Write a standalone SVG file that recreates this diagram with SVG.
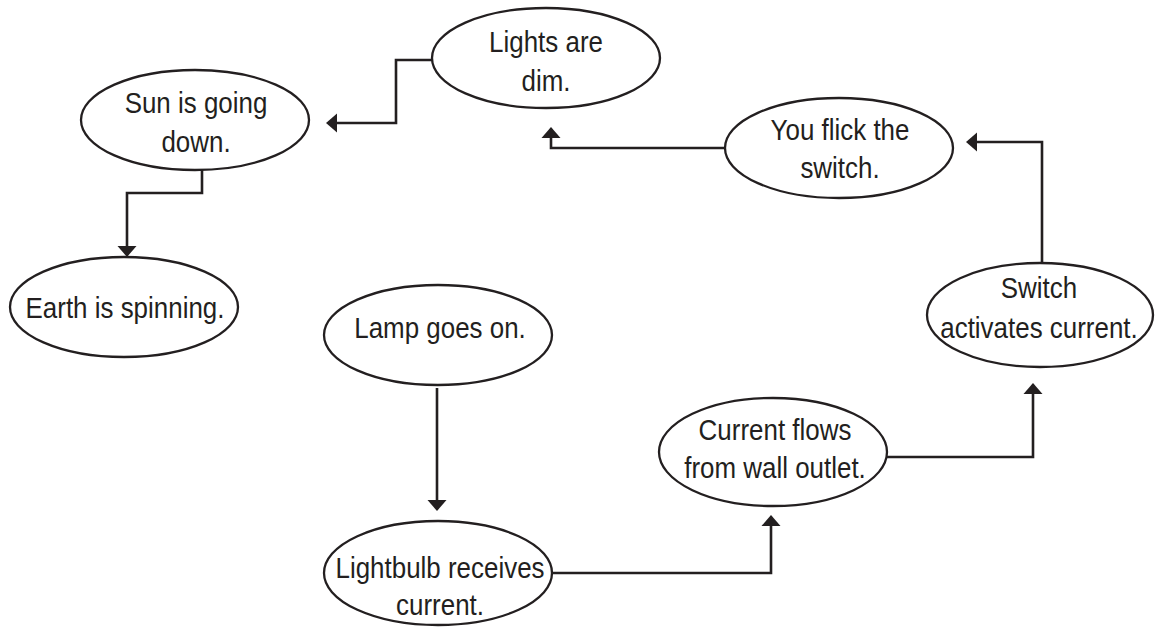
<svg xmlns="http://www.w3.org/2000/svg" width="1155" height="627" viewBox="0 0 1155 627">
  <style>
    .node ellipse { fill: #ffffff; stroke: #231f20; stroke-width: 2.3; }
    .node text { font-family: "Liberation Sans", Arial, sans-serif; font-size: 30px; fill: #231f20; text-anchor: middle; }
    .conn path { fill: none; stroke: #231f20; stroke-width: 2.6; stroke-linejoin: miter; marker-end: url(#head); }
  </style>
  <defs>
    <marker id="head" markerUnits="userSpaceOnUse" markerWidth="12" markerHeight="20" refX="0" refY="9.5" orient="auto" overflow="visible">
      <path d="M0,0 L11,9.5 L0,19 Z" fill="#231f20"/>
    </marker>
  </defs>

  <rect width="1155" height="627" fill="#ffffff"/>

  <g id="connectors" class="conn">
    <path d="M432,60 H396 V123 H337"/>
    <path d="M202,170 V193 H127 V246"/>
    <path d="M725,148 H551 V138"/>
    <path d="M1042,263 V142 H977"/>
    <path d="M887,457 H1033 V394"/>
    <path d="M552,573 H771 V526"/>
    <path d="M437,388 V500"/>
  </g>

  <g id="lights-dim" class="node">
    <ellipse cx="546" cy="58" rx="114" ry="50"/>
    <text transform="translate(546,52) scale(0.865,1)"><tspan x="0" y="0">Lights are</tspan><tspan x="0" y="39">dim.</tspan></text>
  </g>

  <g id="sun-down" class="node">
    <ellipse cx="195" cy="120" rx="114" ry="50"/>
    <text transform="translate(196,113) scale(0.865,1)"><tspan x="0" y="0">Sun is going</tspan><tspan x="0" y="39">down.</tspan></text>
  </g>

  <g id="earth-spinning" class="node">
    <ellipse cx="124" cy="307" rx="114" ry="50"/>
    <text transform="translate(125,318) scale(0.865,1)">Earth is spinning.</text>
  </g>

  <g id="flick-switch" class="node">
    <ellipse cx="839" cy="148" rx="114" ry="50"/>
    <text transform="translate(840,140) scale(0.865,1)"><tspan x="0" y="0">You flick the</tspan><tspan x="0" y="38">switch.</tspan></text>
  </g>

  <g id="switch-activates" class="node">
    <ellipse cx="1040" cy="315" rx="113" ry="52"/>
    <text transform="translate(1039,298) scale(0.865,1)"><tspan x="0" y="0">Switch</tspan><tspan x="0" y="40">activates current.</tspan></text>
  </g>

  <g id="lamp-on" class="node">
    <ellipse cx="438" cy="335" rx="114" ry="50"/>
    <text transform="translate(440,338) scale(0.865,1)">Lamp goes on.</text>
  </g>

  <g id="lightbulb-current" class="node">
    <ellipse cx="438" cy="573" rx="114" ry="52"/>
    <text transform="translate(440,578) scale(0.865,1)"><tspan x="0" y="0">Lightbulb receives</tspan><tspan x="0" y="37">current.</tspan></text>
  </g>

  <g id="wall-outlet" class="node">
    <ellipse cx="773" cy="452" rx="114" ry="54"/>
    <text transform="translate(775,440) scale(0.865,1)"><tspan x="0" y="0">Current flows</tspan><tspan x="0" y="38">from wall outlet.</tspan></text>
  </g>
</svg>
